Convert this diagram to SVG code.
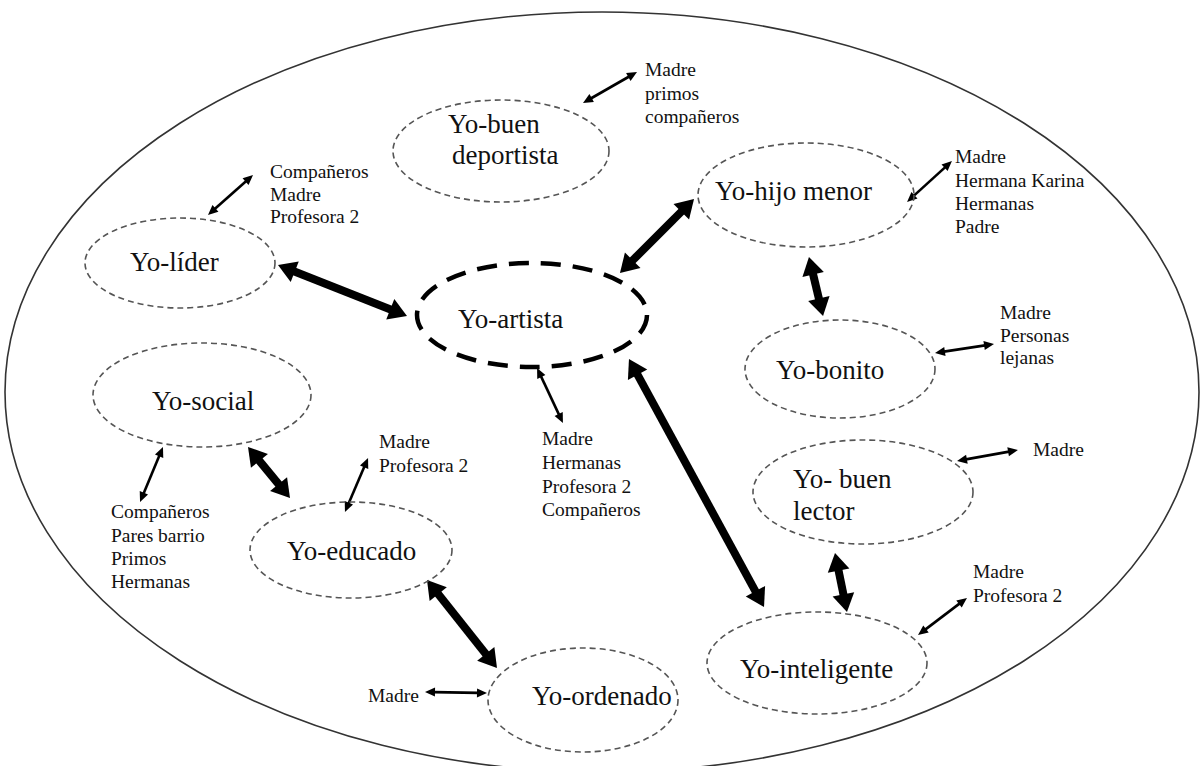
<svg xmlns="http://www.w3.org/2000/svg" width="1201" height="766" viewBox="0 0 1201 766">
<defs>
<style>
.node{fill:none;stroke:#555;stroke-width:1.6;stroke-dasharray:6 4}
.main{fill:none;stroke:#000;stroke-width:4.5;stroke-dasharray:20 12}
.big{font-family:"Liberation Serif",serif;font-size:27px;fill:#111}
.small{font-family:"Liberation Serif",serif;font-size:19.5px;fill:#111}
.thick{stroke:#000;stroke-width:8;marker-start:url(#hb);marker-end:url(#hb)}
.thin{stroke:#000;stroke-width:2.6;marker-start:url(#hs);marker-end:url(#hs)}
</style>
<marker id="hb" markerUnits="userSpaceOnUse" orient="auto-start-reverse" refX="0" refY="0" markerWidth="20" markerHeight="24" overflow="visible"><path d="M-1,-11 L17,0 L-1,11 z" fill="#000"/></marker>
<marker id="hs" markerUnits="userSpaceOnUse" orient="auto-start-reverse" refX="0" refY="0" markerWidth="10" markerHeight="10" overflow="visible"><path d="M-1,-4.5 L9,0 L-1,4.5 z" fill="#000"/></marker>
</defs>
<rect width="1201" height="766" fill="#fff"/>
<ellipse id="frame" cx="602" cy="392" rx="597" ry="380" fill="none" stroke="#333" stroke-width="1.6"/>

<g id="connectors">
<line class="thick" x1="293.8" y1="271.3" x2="391.2" y2="309.7"/>
<line class="thick" x1="632" y1="261" x2="682" y2="211"/>
<line class="thick" x1="812.9" y1="273.5" x2="819.1" y2="299.5"/>
<line class="thick" x1="637.1" y1="373.9" x2="755.9" y2="592.1"/>
<line class="thick" x1="258.8" y1="460.1" x2="279.2" y2="484.9"/>
<line class="thick" x1="437.6" y1="593.3" x2="486.4" y2="654.7"/>
<line class="thick" x1="838.4" y1="569.7" x2="843.6" y2="595.3"/>
<line class="thin" x1="590.8" y1="98.5" x2="629.2" y2="76.5"/>
<line class="thin" x1="913.7" y1="195.9" x2="945.3" y2="167.1"/>
<line class="thin" x1="943.9" y1="351.6" x2="985.1" y2="345.4"/>
<line class="thin" x1="214.7" y1="209" x2="246.3" y2="181"/>
<line class="thin" x1="540.9" y1="376.1" x2="559.1" y2="414.9"/>
<line class="thin" x1="159.5" y1="455.3" x2="143.5" y2="493.7"/>
<line class="thin" x1="348.5" y1="503.7" x2="364.5" y2="466.3"/>
<line class="thin" x1="434" y1="692.1" x2="478" y2="692.9"/>
<line class="thin" x1="965.9" y1="459.4" x2="1009.1" y2="451.6"/>
<line class="thin" x1="925.2" y1="629.6" x2="959.8" y2="603.4"/>
</g>

<g id="n-deportista">
<ellipse class="node" cx="501" cy="151" rx="108" ry="51"/>
<text class="big" x="448" y="133">Yo-buen</text>
<text class="big" x="452" y="164">deportista</text>
<text class="small" x="645" y="76">Madre</text>
<text class="small" x="645" y="100">primos</text>
<text class="small" x="645" y="123">compañeros</text>
</g>

<g id="n-hijo">
<ellipse class="node" cx="806" cy="195" rx="108" ry="52"/>
<text class="big" x="715" y="200">Yo-hijo menor</text>
<text class="small" x="955" y="163">Madre</text>
<text class="small" x="955" y="187">Hermana Karina</text>
<text class="small" x="955" y="210">Hermanas</text>
<text class="small" x="955" y="233">Padre</text>
</g>

<g id="n-bonito">
<ellipse class="node" cx="840" cy="369" rx="95" ry="49"/>
<text class="big" x="776" y="379">Yo-bonito</text>
<text class="small" x="1000" y="319">Madre</text>
<text class="small" x="1000" y="342">Personas</text>
<text class="small" x="1000" y="364">lejanas</text>
</g>

<g id="n-lider">
<ellipse class="node" cx="180" cy="263" rx="95" ry="45"/>
<text class="big" x="130" y="271">Yo-líder</text>
<text class="small" x="270" y="178">Compañeros</text>
<text class="small" x="270" y="201">Madre</text>
<text class="small" x="270" y="223">Profesora 2</text>
</g>

<g id="n-artista">
<ellipse class="main" cx="532" cy="315" rx="115" ry="52"/>
<text class="big" x="458" y="328">Yo-artista</text>
<text class="small" x="542" y="445">Madre</text>
<text class="small" x="542" y="469">Hermanas</text>
<text class="small" x="542" y="493">Profesora 2</text>
<text class="small" x="542" y="516">Compañeros</text>
</g>

<g id="n-social">
<ellipse class="node" cx="202" cy="395" rx="109" ry="52"/>
<text class="big" x="152" y="410">Yo-social</text>
<text class="small" x="111" y="518">Compañeros</text>
<text class="small" x="111" y="542">Pares barrio</text>
<text class="small" x="111" y="565">Primos</text>
<text class="small" x="111" y="588">Hermanas</text>
</g>

<g id="n-educado">
<ellipse class="node" cx="351" cy="550" rx="101" ry="48"/>
<text class="big" x="287" y="560">Yo-educado</text>
<text class="small" x="379" y="448">Madre</text>
<text class="small" x="379" y="472">Profesora 2</text>
</g>

<g id="n-ordenado">
<ellipse class="node" cx="583" cy="700" rx="95" ry="52"/>
<text class="big" x="532" y="705">Yo-ordenado</text>
<text class="small" x="368" y="702">Madre</text>
</g>

<g id="n-lector">
<ellipse class="node" cx="863" cy="492" rx="110" ry="52"/>
<text class="big" x="793" y="488">Yo- buen</text>
<text class="big" x="793" y="520">lector</text>
<text class="small" x="1033" y="456">Madre</text>
</g>

<g id="n-inteligente">
<ellipse class="node" cx="817" cy="663" rx="110" ry="51"/>
<text class="big" x="740" y="678">Yo-inteligente</text>
<text class="small" x="973" y="578">Madre</text>
<text class="small" x="973" y="602">Profesora 2</text>
</g>
</svg>
